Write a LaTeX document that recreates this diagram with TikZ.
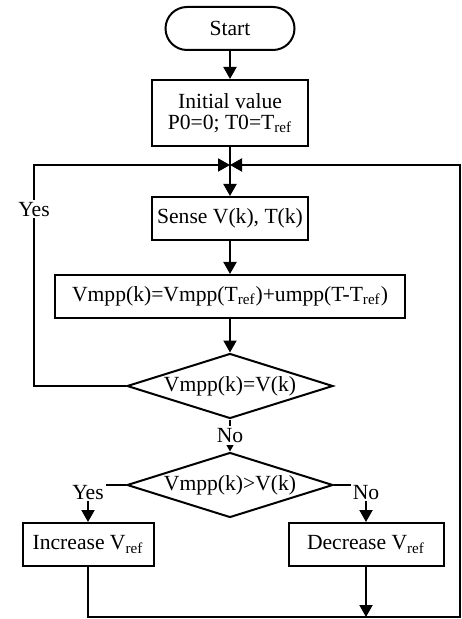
\documentclass[tikz,border=0pt]{standalone}
\usepackage{fontspec}
\setmainfont{Liberation Serif}
\usetikzlibrary{arrows.meta, shapes.geometric}

\begin{document}
\begin{tikzpicture}[x=0.5pt, y=-0.5pt, line width=1pt,
    every node/.style={font=\fontsize{10.8}{10.5}\selectfont},
    boite/.style={draw, rectangle, minimum height=21.5pt, inner sep=2pt},
    losange/.style={draw, diamond, aspect=3.17, minimum width=103pt, minimum height=32.5pt, inner sep=0pt},
    fleche/.style={-{Triangle[length=6pt, width=6.5pt]}},
    etiq/.style={fill=white, inner sep=1pt}]
  \useasboundingbox (0,0) rectangle (461,619);

  \node[draw, rounded corners=10.75pt, minimum width=64.5pt, minimum height=21.5pt] (start) at (230,28.5) {Start};
  \node[boite, minimum width=78pt, minimum height=33pt, align=center] (init) at (230,113) {Initial value\\P0=0; T0=T\textsubscript{ref}};
  \node[boite, minimum width=78pt] (sense) at (230,218.5) {Sense V(k), T(k)};
  \node[boite, minimum width=175pt] (calc) at (230,296.5) {Vmpp(k)=Vmpp(T\textsubscript{ref})+umpp(T-T\textsubscript{ref})};
  \node[losange] (egal) at (230,386) {Vmpp(k)=V(k)};
  \node[losange] (compare) at (230,485) {Vmpp(k)>V(k)};
  \node[boite, minimum width=65.5pt] (inc) at (88,544.5) {Increase V\textsubscript{ref}};
  \node[boite, minimum width=77.5pt] (dec) at (366,544.5) {Decrease V\textsubscript{ref}};

  \coordinate (join) at (230,165);
  \coordinate (gauche) at (34,386);
  \coordinate (coin) at (460,617);

  \draw[fleche] (start) -- (init);
  \draw[fleche] (init) -- (sense);
  \draw[fleche] (sense) -- (calc);
  \draw[fleche] (calc) -- (egal);
  \draw[fleche] (egal) -- (gauche) |- node[etiq, pos=0.4] {Yes} (join);
  \draw[fleche] (egal) -- node[etiq] {No} (compare);
  \draw[fleche] (compare) -| node[etiq, pos=0.5, anchor=north, yshift=1.5pt] {Yes} (inc);
  \draw[fleche] (compare) -| node[etiq, pos=0.5, anchor=north, yshift=1.5pt] {No} (dec);
  \draw[fleche] (inc) |- (coin) |- (join);
  \draw[fleche] (dec) -- (dec |- coin);
\end{tikzpicture}
\end{document}
